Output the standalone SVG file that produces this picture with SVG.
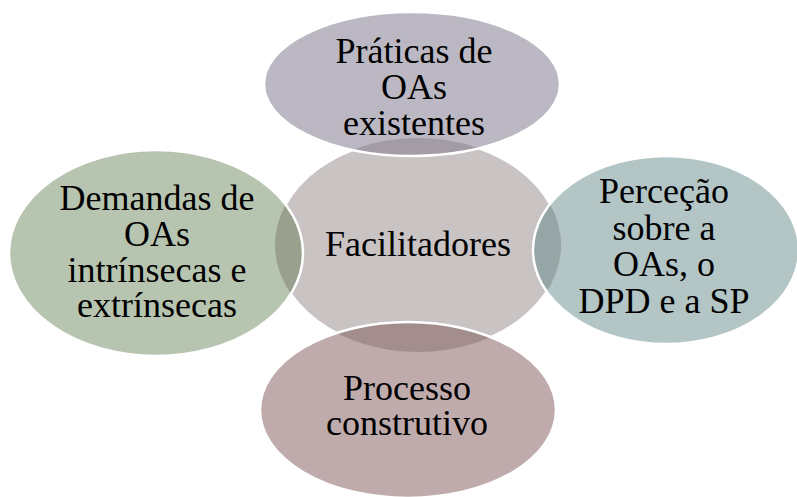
<svg xmlns="http://www.w3.org/2000/svg" width="797" height="497" viewBox="0 0 797 497">
<style>
text{font-family:'Liberation Serif','Times New Roman','DejaVu Serif',serif;font-size:36px;fill:#000;text-anchor:middle}
.edge{fill:none;stroke:#fff;stroke-width:2.5}
</style>
<defs>
<ellipse id="cE" cx="418" cy="245" rx="143" ry="107"/>
<clipPath id="clipTop"><ellipse cx="412" cy="84" rx="148" ry="72"/></clipPath>
<clipPath id="clipLeft"><ellipse cx="156" cy="253" rx="147" ry="103"/></clipPath>
<clipPath id="clipRight"><ellipse cx="666" cy="250" rx="133" ry="94"/></clipPath>
<clipPath id="clipBottom"><ellipse cx="408" cy="410" rx="148" ry="88"/></clipPath>
</defs>
<rect width="797" height="497" fill="#fff"/>
<g id="connectors"></g>
<g id="node-center">
<use href="#cE" fill="#c9c3c3" stroke="#fff" stroke-width="2.5"/>
</g>
<g id="node-top">
<ellipse cx="412" cy="84" rx="148" ry="72" fill="#bcb8c3"/>
<use href="#cE" fill="#a39ba5" clip-path="url(#clipTop)"/>
<ellipse class="edge" cx="412" cy="84" rx="148" ry="72"/>
<text x="414" y="63" font-family="Liberation Serif, serif">Práticas de</text>
<text x="414" y="99" font-family="Liberation Serif, serif">OAs</text>
<text x="414" y="135" font-family="Liberation Serif, serif">existentes</text>
</g>
<g id="node-left">
<ellipse cx="156" cy="253" rx="147" ry="103" fill="#b7c4b0"/>
<use href="#cE" fill="#9aa08e" clip-path="url(#clipLeft)"/>
<ellipse class="edge" cx="156" cy="253" rx="147" ry="103"/>
<text x="157" y="210" font-family="Liberation Serif, serif">Demandas de</text>
<text x="157" y="246" font-family="Liberation Serif, serif">OAs</text>
<text x="157" y="282" font-family="Liberation Serif, serif">intrínsecas e</text>
<text x="157" y="317" font-family="Liberation Serif, serif">extrínsecas</text>
</g>
<g id="node-right">
<ellipse cx="666" cy="250" rx="133" ry="94" fill="#b3c5c5"/>
<use href="#cE" fill="#96a5a5" clip-path="url(#clipRight)"/>
<ellipse class="edge" cx="666" cy="250" rx="133" ry="94"/>
<text x="664" y="203" font-family="Liberation Serif, serif">Perceção</text>
<text x="664" y="240" font-family="Liberation Serif, serif">sobre a</text>
<text x="664" y="276" font-family="Liberation Serif, serif">OAs, o</text>
<text x="664" y="313" font-family="Liberation Serif, serif">DPD e a SP</text>
</g>
<g id="node-bottom">
<ellipse cx="408" cy="410" rx="148" ry="88" fill="#c0abac"/>
<use href="#cE" fill="#a38d8d" clip-path="url(#clipBottom)"/>
<ellipse class="edge" cx="408" cy="410" rx="148" ry="88"/>
<text x="407" y="400" font-family="Liberation Serif, serif">Processo</text>
<text x="407" y="435" font-family="Liberation Serif, serif">construtivo</text>
</g>
<text x="418" y="256" font-family="Liberation Serif, serif">Facilitadores</text>
</svg>
